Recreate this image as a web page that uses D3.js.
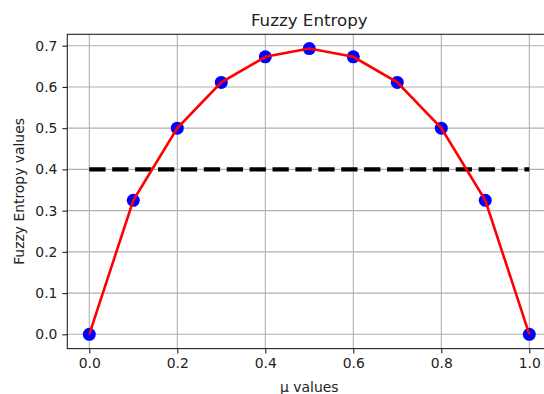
<!DOCTYPE html>
<html>
<head>
<meta charset="utf-8">
<script src="https://cdn.jsdelivr.net/npm/d3@7"></script>
<style>
  body { margin: 0; background: #fff; }
  svg { display: block; font-family: "DejaVu Sans", sans-serif; }
</style>
</head>
<body>
<script>
// data
var muValues = [0.0, 0.1, 0.2, 0.3, 0.4, 0.5, 0.6, 0.7, 0.8, 0.9, 1.0];
var entropyValues = [0.0, 0.325, 0.500, 0.611, 0.673, 0.693, 0.673, 0.611, 0.500, 0.325, 0.0];
var thresholdLevel = 0.4;
var xTicks = [0.0, 0.2, 0.4, 0.6, 0.8, 1.0];
var yTicks = [0.0, 0.1, 0.2, 0.3, 0.4, 0.5, 0.6, 0.7];

var W = 544, H = 394;
var plot = { left: 67.3, right: 551.3, top: 34.3, bottom: 348.6 };

var svg = d3.select("body").append("svg")
  .attr("width", W)
  .attr("height", H);

var x = d3.scaleLinear().domain([-0.05, 1.05]).range([plot.left, plot.right]);
var y = d3.scaleLinear().domain([-0.03465, 0.72765]).range([plot.bottom, plot.top]);

// grid
svg.append("g").selectAll("line").data(xTicks).enter().append("line")
  .attr("x1", d => x(d)).attr("x2", d => x(d))
  .attr("y1", plot.top).attr("y2", plot.bottom)
  .attr("stroke", "#b0b0b0").attr("stroke-width", 1.1);
svg.append("g").selectAll("line").data(yTicks).enter().append("line")
  .attr("y1", d => y(d)).attr("y2", d => y(d))
  .attr("x1", plot.left).attr("x2", plot.right)
  .attr("stroke", "#b0b0b0").attr("stroke-width", 1.1);

// axes
var xAxis = svg.append("g")
  .attr("transform", "translate(0," + plot.bottom + ")")
  .call(d3.axisBottom(x).tickValues(xTicks).tickFormat(d3.format(".1f")).tickSizeInner(4.9).tickSizeOuter(0).tickPadding(4.5));
var yAxis = svg.append("g")
  .attr("transform", "translate(" + plot.left + ",0)")
  .call(d3.axisLeft(y).tickValues(yTicks).tickFormat(d3.format(".1f")).tickSizeInner(4.9).tickSizeOuter(0).tickPadding(5));
[xAxis, yAxis].forEach(function(a) {
  a.selectAll("text").attr("font-size", "13.9px").attr("fill", "#222").attr("font-family", "DejaVu Sans, sans-serif");
  a.selectAll("line").attr("stroke", "#222").attr("stroke-width", 1.1);
  a.select(".domain").remove();
});

// spines
svg.append("rect")
  .attr("x", plot.left).attr("y", plot.top)
  .attr("width", plot.right - plot.left).attr("height", plot.bottom - plot.top)
  .attr("fill", "none").attr("stroke", "#222").attr("stroke-width", 1.1);

// threshold dashed line
svg.append("line")
  .attr("x1", x(0)).attr("x2", x(1))
  .attr("y1", y(thresholdLevel)).attr("y2", y(thresholdLevel))
  .attr("stroke", "#000").attr("stroke-width", 4.2)
  .attr("stroke-dasharray", "16.3,6.6");

// curve
var line = d3.line()
  .x((d, i) => x(muValues[i]))
  .y(d => y(d));

// points
svg.append("g").selectAll("circle")
  .data(entropyValues)
  .enter()
  .append("circle")
  .attr("cx", (d, i) => x(muValues[i]))
  .attr("cy", d => y(d))
  .attr("r", 6.5)
  .attr("fill", "blue");

// red line on top of markers like the reference
svg.append("path")
  .datum(entropyValues)
  .attr("d", line)
  .attr("fill", "none")
  .attr("stroke", "red")
  .attr("stroke-width", 2.6);

// labels
svg.append("text")
  .attr("x", x(0.5)).attr("y", 26)
  .attr("text-anchor", "middle")
  .attr("font-size", "16.7px").attr("fill", "#222")
  .text("Fuzzy Entropy");
svg.append("text")
  .attr("x", x(0.5)).attr("y", 392)
  .attr("text-anchor", "middle")
  .attr("font-size", "13.9px").attr("fill", "#222")
  .text("μ values");
svg.append("text")
  .attr("transform", "translate(23.5," + ((plot.top + plot.bottom) / 2) + ") rotate(-90)")
  .attr("text-anchor", "middle")
  .attr("font-size", "13.9px").attr("fill", "#222")
  .text("Fuzzy Entropy values");
</script>
</body>
</html>
